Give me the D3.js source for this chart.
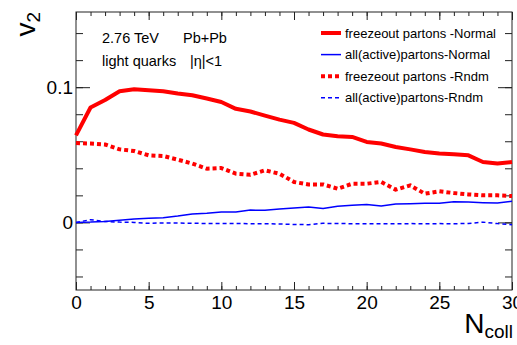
<!DOCTYPE html>
<html>
<head>
<meta charset="utf-8">
<script src="https://cdn.jsdelivr.net/npm/d3@7"></script>
<style>
  body { margin: 0; background: #fff; }
  svg { display: block; font-family: "Liberation Sans", Arial, Helvetica, sans-serif; }
  .axis path { display: none; }
  .axis line { stroke: #222; stroke-width: 1; }
  .axis text { font-size: 19px; fill: #000; font-family: "Liberation Sans", Arial, sans-serif; }
</style>
</head>
<body>
<div id="chart"></div>
<script>
// N_coll values on the x axis
const ncoll = d3.range(0, 31);

// v2 of freezeout partons, normal
const freezeNormal = [0.0644, 0.085, 0.0905, 0.097, 0.0985, 0.0978, 0.097, 0.0953, 0.094, 0.0916,
  0.089, 0.084, 0.082, 0.079, 0.076, 0.0736, 0.0687, 0.065, 0.0637, 0.0632,
  0.0595, 0.0583, 0.0558, 0.054, 0.052, 0.0509, 0.0504, 0.0496, 0.0447, 0.0435, 0.0447];

// v2 of all (active) partons, normal
const activeNormal = [0, 0.0002, 0.0007, 0.0015, 0.0025, 0.003, 0.0035, 0.0047, 0.0062, 0.0067,
  0.0077, 0.0077, 0.0091, 0.0089, 0.0099, 0.0106, 0.0114, 0.0102, 0.0119, 0.0126,
  0.0133, 0.0121, 0.0136, 0.0138, 0.0141, 0.0141, 0.0153, 0.015, 0.0146, 0.0143, 0.0156];

// v2 of freezeout partons, random
const freezeRndm = [0.0587, 0.0583, 0.0576, 0.054, 0.0528, 0.0496, 0.0491, 0.0464, 0.0435, 0.0397,
  0.0402, 0.036, 0.0352, 0.0385, 0.036, 0.0299, 0.028, 0.0281, 0.0249, 0.0286,
  0.0286, 0.0299, 0.0242, 0.0274, 0.0212, 0.023, 0.0217, 0.0207, 0.02, 0.02, 0.0195];

// v2 of all (active) partons, random
const activeRndm = [0, 0.002, 0.0007, 0.0002, 0, -0.0007, -0.0004, -0.0005, -0.0006, -0.0008,
  -0.0008, -0.0008, -0.001, -0.001, -0.0012, -0.0015, -0.0017, -0.0007, -0.0008, -0.001,
  -0.001, -0.001, -0.001, -0.0009, -0.001, -0.0009, -0.001, -0.0008, 0.0002, -0.0009, -0.0017];

const xMajor = [0, 5, 10, 15, 20, 25, 30];
const yMajor = [0, 0.1];
const yMajorLabels = ["0", "0.1"];

const series = [
  { name: "freezeout partons -Normal", values: freezeNormal, color: "#ff0000", width: 4, dash: null },
  { name: "all(active)partons-Normal", values: activeNormal, color: "#0000ff", width: 1.5, dash: null },
  { name: "freezeout partons -Rndm", values: freezeRndm, color: "#ff0000", width: 4, dash: "4,3" },
  { name: "all(active)partons-Rndm", values: activeRndm, color: "#0000ff", width: 1.5, dash: "4,3" }
];

const W = 517, H = 345;
const margin = {top: 12, right: 5, bottom: 55, left: 76};
const width = W - margin.left - margin.right;
const height = H - margin.top - margin.bottom;

const svg = d3.select("#chart")
              .append("svg")
              .attr("width", W)
              .attr("height", H);

const g = svg.append("g")
             .attr("transform", "translate(" + margin.left + "," + margin.top + ")");

const x = d3.scaleLinear().domain([0, 30]).range([0, width]);
const y = d3.scaleLinear().domain([-0.05, 0.1556]).range([height, 0]);

const yMinor = d3.range(-0.04, 0.1500001, 0.02).map(v => +v.toFixed(2));

// ****************** axes (ROOT style, ticks inside) ******************
g.append("g").attr("class", "axis")
 .attr("transform", "translate(0," + height + ")")
 .call(d3.axisBottom(x).tickValues(ncoll).tickSize(-4).tickFormat(""));
g.append("g").attr("class", "axis")
 .attr("transform", "translate(0," + height + ")")
 .call(d3.axisBottom(x).tickValues(xMajor).tickSize(-8).tickPadding(6).tickFormat(d3.format("d")));
g.append("g").attr("class", "axis")
 .call(d3.axisTop(x).tickValues(ncoll).tickSize(-4).tickFormat(""));
g.append("g").attr("class", "axis")
 .call(d3.axisTop(x).tickValues(xMajor).tickSize(-8).tickFormat(""));

g.append("g").attr("class", "axis")
 .call(d3.axisLeft(y).tickValues(yMinor).tickSize(-7).tickFormat(""));
g.append("g").attr("class", "axis")
 .call(d3.axisLeft(y).tickValues(yMajor).tickSize(-14).tickPadding(3)
   .tickFormat((d, i) => yMajorLabels[i]));
g.append("g").attr("class", "axis")
 .attr("transform", "translate(" + width + ",0)")
 .call(d3.axisRight(y).tickValues(yMinor).tickSize(-7).tickFormat(""));
g.append("g").attr("class", "axis")
 .attr("transform", "translate(" + width + ",0)")
 .call(d3.axisRight(y).tickValues(yMajor).tickSize(-14).tickFormat(""));

// frame
g.append("rect")
 .attr("width", width)
 .attr("height", height)
 .attr("fill", "none")
 .attr("stroke", "#222")
 .attr("stroke-width", 1);

// ****************** lines ******************
const line = d3.line()
               .x((d, i) => x(ncoll[i]))
               .y(d => y(d));

series.forEach(s => {
  g.append("path")
   .datum(s.values)
   .attr("fill", "none")
   .attr("stroke", s.color)
   .attr("stroke-width", s.width)
   .attr("stroke-linejoin", "round")
   .attr("stroke-dasharray", s.dash)
   .attr("d", line);
});

// ****************** legend ******************
const legend = svg.append("g").attr("transform", "translate(321,33)");
series.forEach((s, i) => {
  const row = legend.append("g").attr("transform", "translate(0," + (i * 21.6) + ")");
  row.append("line")
     .attr("x1", 0).attr("x2", 20)
     .attr("stroke", s.color)
     .attr("stroke-width", s.width)
     .attr("stroke-dasharray", s.dash);
  row.append("text")
     .attr("x", 24)
     .attr("y", 4.5)
     .attr("font-size", "13px")
     .text(s.name);
});

// ****************** annotations ******************
svg.append("text").attr("x", 102).attr("y", 43).attr("font-size", "14.5px").text("2.76 TeV");
svg.append("text").attr("x", 183).attr("y", 43).attr("font-size", "14.5px").text("Pb+Pb");
svg.append("text").attr("x", 102).attr("y", 66).attr("font-size", "14.5px").text("light quarks");
svg.append("text").attr("x", 190).attr("y", 66).attr("font-size", "14.5px").text("|η|<1");

// axis titles
const yTitle = svg.append("text")
                  .attr("transform", "translate(35,12) rotate(-90)")
                  .attr("text-anchor", "end")
                  .attr("font-size", "28px");
yTitle.append("tspan").text("v");
yTitle.append("tspan").attr("font-size", "19px").attr("dy", 5).text("2");

const xTitle = svg.append("text")
                  .attr("x", 513)
                  .attr("y", 333)
                  .attr("text-anchor", "end")
                  .attr("font-size", "28px");
xTitle.append("tspan").text("N");
xTitle.append("tspan").attr("font-size", "19px").attr("dy", 5).text("coll");
</script>
</body>
</html>
